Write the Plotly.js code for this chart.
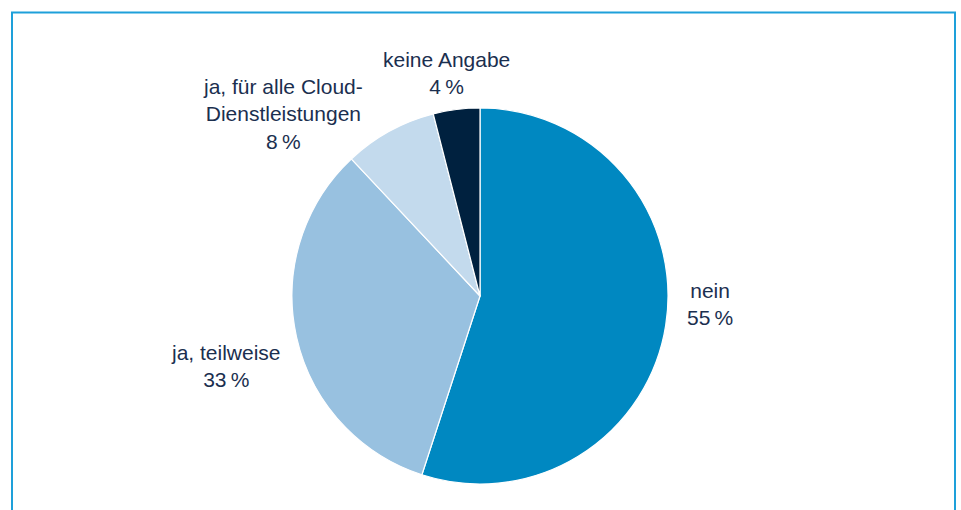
<!DOCTYPE html>
<html><head><meta charset="utf-8">
<script src="https://cdn.plot.ly/plotly-3.0.1.min.js"></script>
<style>html,body{margin:0;padding:0;background:#fff;}#chart{width:961px;height:510px;}</style>
</head><body><div id="chart"></div>
<script>
const categories = ["nein", "ja, teilweise", "ja, für alle Cloud-<br>Dienstleistungen", "keine Angabe"];
const values = [55, 33, 8, 4];
const sliceColors = ["#0088c1", "#98c1e0", "#c3daed", "#00213f"];
// label centre positions in pixels (layout only)
const labelPos = [[710, 304], [226, 366], [283, 114], [446, 73]];

const W = 961, H = 510;
const cx = 480, cy = 296, r = 188;

const annotations = categories.map((c, i) => ({
  text: c + "<br>" + values[i] + "\u202F%",
  x: labelPos[i][0] / W, y: 1 - labelPos[i][1] / H,
  xref: "paper", yref: "paper", showarrow: false,
  xanchor: "center", yanchor: "middle", align: "center",
  font: {family: "Liberation Sans, Arial, sans-serif", size: 21, color: "#1b2f4f"}
}));

const data = [{
  type: "pie",
  labels: categories,
  values: values,
  sort: false,
  direction: "clockwise",
  rotation: 0,
  textinfo: "none",
  hoverinfo: "label+percent",
  marker: {colors: sliceColors, line: {color: "#ffffff", width: 1.2}},
  domain: {x: [(cx - r) / W, (cx + r) / W], y: [1 - (cy + r) / H, 1 - (cy - r) / H]}
}];

const layout = {
  width: W, height: H,
  margin: {l: 0, r: 0, t: 0, b: 0},
  showlegend: false,
  paper_bgcolor: "#ffffff",
  annotations: annotations,
  shapes: [{
    type: "path", xref: "paper", yref: "paper",
    path: "M " + (12/W) + " " + (-0.05) + " L " + (12/W) + " " + (1 - 12.5/H) + " L " + (955/W) + " " + (1 - 12.5/H) + " L " + (955/W) + " " + (-0.05),
    line: {color: "#1ea0da", width: 2}
  }]
};
Plotly.newPlot("chart", data, layout, {displayModeBar: false, staticPlot: true});
</script></body></html>
